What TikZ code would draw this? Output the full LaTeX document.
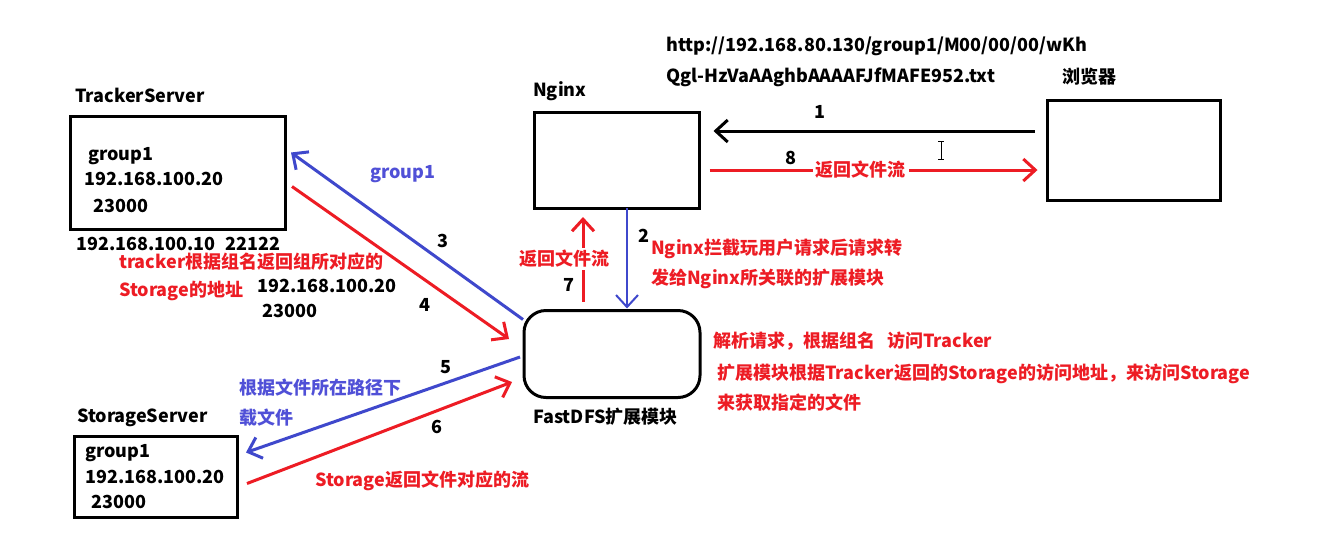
\documentclass[tikz,border=0pt]{standalone}
\usepackage{fontspec}
\setmainfont{Noto Sans CJK SC}
\usetikzlibrary{arrows.meta,calc}
\definecolor{pred}{RGB}{237,28,36}
\definecolor{pblue}{RGB}{63,72,204}
\definecolor{tblue}{RGB}{80,80,215}
\begin{document}
\begin{tikzpicture}[x=1pt,y=-1pt,
  box/.style={draw, line width=3pt, inner sep=0pt, outer sep=0pt},
  t/.style={anchor=west, inner sep=0pt, font=\fontsize{18}{22}\selectfont\bfseries, text=black},
  num/.style={t, anchor=center},
  rt/.style={t, text=pred},
  bt/.style={t, text=tblue},
  onarr/.style={rt, anchor=center, fill=white, inner xsep=3pt, inner ysep=2pt},
  arr/.style={line width=3pt, -{Straight Barb[length=12pt,width=22pt]}},
  redarr/.style={arr, draw=pred},
  bluearr/.style={arr, draw=pblue},
  blackarr/.style={arr, draw=black}]
\useasboundingbox[fill=white] (0,0) rectangle (1340,558);

% boxes
\node[box, minimum width=215pt, minimum height=113pt] (tracker) at (177.5,172.5) {};
\node[box, minimum width=165pt, minimum height=96pt] (nginx) at (617,160) {};
\node[box, minimum width=173pt, minimum height=100pt] (browser) at (1134,150) {};
\node[box, rounded corners=22pt, minimum width=176pt, minimum height=87pt] (fast) at (612,354) {};
\node[box, minimum width=163pt, minimum height=81pt] (storage) at (155.5,476.5) {};

% titles
\node[t] (ttracker) at (75,95) {TrackerServer};
\node[t] (tstorage) at (77,418) {StorageServer};
\node[t] (tnginx) at (533,91) {Nginx};
\node[t] (tbrowser) at (1062,77) {浏览器};
\node[t] (tfast) at (533,417) {FastDFS扩展模块};

% URL
\node[t] (url1) at (666,46) {http://192.168.80.130/group1/M00/00/00/wKh};
\node[t] (url2) at (666,77) {Qgl-HzVaAAghbAAAAFJfMAFE952.txt};

% box contents
\node[t] (tg) at (88,156) {group1};
\node[t] (tip) at (84,179) {192.168.100.20};
\node[t] (tport) at (93,206) {23000};
\node[t] (taddr) at (76,244) {192.168.100.10\hspace{6pt} 22122};
\node[t] (sg) at (85,453) {group1};
\node[t] (sip) at (85,477) {192.168.100.20};
\node[t] (sport) at (91,502) {23000};

% middle texts
\node[rt] (r4a) at (119,262) {tracker根据组名返回组所对应的};
\node[rt] (r4b) at (119,291) {Storage的地址};
\node[t] (m4ip) at (257,286) {192.168.100.20};
\node[t] (m4port) at (262,311) {23000};
\node[bt] (b3) at (370,174) {group1};
\node[bt] (b5a) at (239,388) {根据文件所在路径下};
\node[bt] (b5b) at (239,418) {载文件};
\node[rt] (r6) at (315,481) {Storage返回文件对应的流};
\node[rt] (r2a) at (651,249) {Nginx拦截玩用户请求后请求转};
\node[rt] (r2b) at (651,279) {发给Nginx所关联的扩展模块};
\node[rt] (rf1) at (713,341) {解析请求，根据组名\hspace{12pt}访问Tracker};
\node[rt] (rf2) at (717,374) {扩展模块根据Tracker返回的Storage的访问地址，来访问Storage};
\node[rt] (rf3) at (717,403) {来获取指定的文件};

% numbers
\node[num] (n1) at (820,112) {1};
\node[num] (n2) at (644,236) {2};
\node[num] (n3) at (443,241) {3};
\node[num] (n4) at (425,305) {4};
\node[num] (n5) at (446,367) {5};
\node[num] (n6) at (437,427) {6};
\node[num] (n7) at (569,285) {7};
\node[num] (n8) at (791,158) {8};

% arrows
\draw[blackarr] ($(browser.west)+(-13,-19)$) -- ($(nginx.east)+(14,-29)$);
\draw[redarr] ($(nginx.east)+(10,10)$) -- ($(browser.west)+(-10,20)$);
\draw[bluearr, line width=2pt] ($(nginx.south)+(10,0)$) -- ($(fast.north)+(15,-2)$);
\draw[redarr] ($(fast.north)+(-29,-9)$) -- ($(nginx.south)+(-34,9)$);
\draw[bluearr] ($(fast.north west)+(-1,9)$) -- ($(tracker.east)+(6,-20)$);
\draw[redarr] ($(tracker.east)+(7,14)$) -- ($(fast.west)+(-15,-15)$);
\draw[bluearr] ($(fast.west)+(-4,3)$) -- ($(storage.east)+(9,-24)$);
\draw[redarr] ($(storage.east)+(10,7)$) -- ($(fast.west)+(-12,28)$);

% labels on arrows
\node[onarr] (l8) at (860.5,170) {返回文件流};
\node[onarr] (l7) at (564.5,259) {返回文件流};

% text cursor
\draw[line width=1pt] (941,141) -- (941,159) (938,141) -- (944,141) (938,159) -- (944,159);
\end{tikzpicture}
\end{document}
